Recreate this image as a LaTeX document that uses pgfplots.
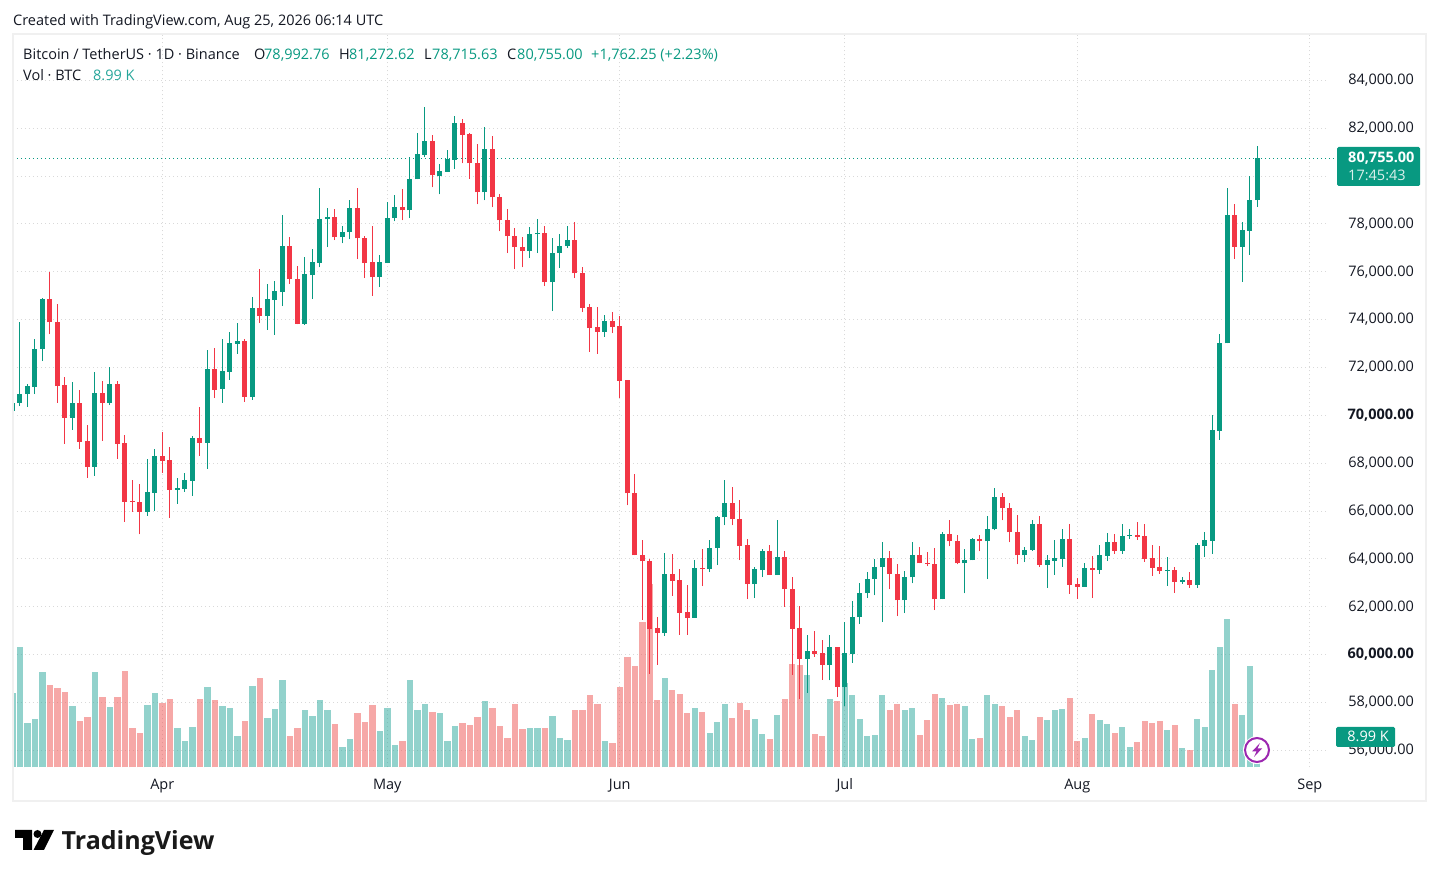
\documentclass[border=0pt]{standalone}
\usepackage{fontspec}
\setmainfont{Open Sans}
\usepackage{pgfplots}
\usepackage{pgfplotstable}
\pgfplotsset{compat=1.18}
\definecolor{upc}{HTML}{089981}
\definecolor{downc}{HTML}{F23645}
\definecolor{volup}{HTML}{26A69A}
\definecolor{voldown}{HTML}{EF5350}
\definecolor{gridc}{HTML}{D9D9D9}
\definecolor{boxc}{HTML}{F0F0F0}
\definecolor{txt}{HTML}{131722}
\definecolor{boltc}{HTML}{9C27B0}
\newcommand{\tvfont}{\fontsize{14.5}{17}\selectfont}

% i low high bot top vol  (USD, volume in thousands BTC)
\pgfplotstableread{
i low high bot top vol
0 70180 70530 70180 70530 22.2
1 70390 73920 70520 70900 36.0
2 70350 71290 70890 71210 13.2
3 70890 73210 71180 72790 14.4
4 72270 74920 72770 74880 28.5
8 69390 71380 69890 70500 18.3
11 67470 71830 67850 70920 28.5
13 70430 72040 70520 71330 18.0
18 65810 68170 65970 66790 18.6
19 66020 68580 66770 68290 22.2
22 66310 67380 66890 66960 11.7
23 66810 67580 66930 67290 7.8
24 66640 69130 67270 69040 12.0
26 67770 72750 68850 71920 24.0
28 70530 73180 71110 71850 18.3
29 71490 73470 71820 73010 17.7
30 72570 73850 72990 73100 9.3
32 70650 74930 70780 74470 24.3
34 73570 75470 74150 74850 14.7
35 73360 75600 74820 75180 17.4
36 74570 78390 75150 77100 26.1
39 73780 76600 73820 75890 17.1
40 74860 76970 75860 76390 15.3
41 76190 79510 76360 78220 20.1
42 77030 78680 78190 78300 17.1
44 77190 77930 77440 77680 6.0
45 77360 79010 77650 78680 8.4
49 75360 76720 75780 76390 10.8
50 76360 78930 76360 78260 17.7
51 78110 79220 78240 78720 6.6
53 78240 80800 78570 79890 26.1
54 79860 81800 79860 80930 17.1
55 80780 82890 80890 81470 18.9
57 79240 80510 80010 80220 16.2
58 80190 81100 80190 80720 7.8
59 80300 82510 80690 82220 12.3
63 78990 82050 79320 81140 19.8
69 76570 77890 76860 77600 11.7
70 76780 78220 77570 77640 11.7
72 74360 77430 75570 76800 15.3
73 76150 77600 76780 77100 8.7
74 76990 77930 77070 77350 8.1
79 73280 74180 73490 73930 7.8
87 60780 64260 60900 63350 26.7
91 61530 63970 61530 63640 17.7
93 63450 64810 63570 64470 10.2
94 63740 65810 64450 65760 13.5
95 65400 67310 65740 66350 18.9
99 62360 63680 62950 63560 14.4
100 63240 64430 63530 64310 9.9
102 63320 65640 63320 64060 15.6
106 58400 60810 59820 60140 27.6
109 58920 60800 59560 60300 20.4
111 57840 61380 58650 60050 25.2
112 59650 62220 60020 61590 21.6
113 61270 63010 61560 62590 14.4
114 62360 63470 62560 63170 9.3
115 62480 64010 63150 63670 9.6
116 61360 64720 63650 64050 21.6
119 61730 63510 62270 63260 17.1
120 62980 64720 63230 64170 17.7
124 62310 65130 62310 65050 20.7
127 62560 64420 63810 63970 18.3
128 63940 64880 63940 64840 8.4
130 63150 65800 64730 65260 21.6
131 65190 66970 65230 66590 18.9
135 63860 64510 64150 64380 9.3
136 64340 65620 64380 65450 8.1
138 62800 64160 63760 63950 14.1
139 63340 64780 63920 64030 17.1
140 63670 65240 64010 64830 17.4
143 62840 63830 62840 63620 8.7
145 63380 64580 63550 64160 14.1
146 63920 65080 64130 64700 12.9
148 64220 65450 64340 64950 12.0
149 64840 65240 64970 64990 6.0
154 62880 64080 63510 63530 11.1
156 62970 63240 63050 63120 5.7
158 62800 64660 62920 64580 14.4
159 64090 65120 64550 64780 12.0
160 64220 70030 64760 69370 29.1
161 68970 73410 69340 73030 36.0
162 73010 79490 73010 78370 44.4
164 75590 78080 77050 77740 15.6
165 76720 79990 77720 78990 30.3
166 78716 81273 78993 80755 8.99
}\upt

\pgfplotstableread{
i low high bot top vol
5 73390 76000 73890 74880 24.6
6 70520 74670 71220 73920 23.7
7 68810 71610 69890 71250 22.5
9 68600 71080 68890 70500 13.8
10 67390 69580 67850 68920 15.0
12 68930 71420 70520 70920 21.0
14 68180 71420 68810 71330 21.0
15 65560 69170 66390 68830 28.8
16 65970 67290 66390 66420 11.7
17 65020 67130 65970 66380 10.2
20 67600 69290 68100 68290 19.2
21 65720 68670 66890 68130 20.4
25 68310 70330 68850 69040 20.4
27 70720 72830 71060 71920 20.1
31 70570 73180 70780 73100 13.8
33 73860 76100 74150 74470 26.7
37 75490 77470 75690 77100 9.3
38 73800 76260 73820 75720 11.7
43 77320 78640 77440 78300 12.9
46 76530 79510 77400 78680 16.2
47 75740 77510 76360 77430 13.5
48 74990 77930 75780 76390 18.6
52 78150 79470 78570 78720 7.8
56 79530 81720 80030 81470 16.5
60 80530 82390 81740 82220 13.2
61 79900 81800 80530 81760 12.6
62 78820 81350 79320 80550 15.0
64 78690 81680 79110 81140 17.7
65 77690 79260 78150 79140 12.3
66 76780 78640 77490 78180 8.7
67 76110 77850 77030 77510 18.9
68 76190 77470 76860 77050 11.4
71 75400 77930 75570 77640 11.7
75 75740 78100 75940 77350 17.1
76 74320 76220 74490 75970 17.1
77 72650 74640 73650 74510 21.6
78 72570 74550 73490 73680 18.9
80 73440 74300 73690 73930 7.2
81 70740 74140 71440 73720 24.0
82 66240 71470 66740 71470 33.0
83 64150 67560 64150 66760 30.3
84 61450 64810 63900 64180 43.5
85 59200 64010 61070 63930 54.9
86 59570 61560 60900 61100 20.1
88 62450 64220 63070 63350 23.1
89 60820 63560 61740 63100 21.9
90 60820 62890 61530 61760 16.2
92 62860 64430 63570 63640 16.5
96 65400 67010 65650 66350 14.7
97 63950 66470 64530 65680 19.2
98 62320 64850 62950 64560 17.1
101 63320 64600 63320 64310 8.4
103 61990 64310 62740 64060 20.4
104 59150 63260 61070 62760 30.9
105 58150 62010 59820 61100 30.6
107 59900 60970 60030 60140 9.9
108 58950 60600 59570 60060 9.3
110 58230 60300 58650 60300 19.8
117 62730 64340 63360 64050 17.1
118 61610 63800 62270 63380 18.9
121 63810 64510 63810 64170 9.6
122 63690 64300 63810 63840 14.1
123 61860 64470 62310 63800 21.9
125 64520 65630 64730 65050 18.6
126 63770 65010 63810 64760 18.9
129 64310 65010 64730 64840 8.7
132 65610 66760 66110 66590 18.3
133 64690 66340 65110 66130 15.0
134 63770 65840 64150 65130 17.1
137 63670 65780 63760 65450 15.0
141 62550 65450 62920 64830 20.7
142 62340 63200 62840 62950 7.8
144 62380 64120 63550 63620 15.9
147 64220 65030 64340 64700 10.2
150 64800 65530 64920 64990 7.5
151 63880 65450 64010 64950 13.8
152 63300 64580 63630 64030 13.2
153 63380 64530 63510 63660 13.8
155 62590 63660 63050 63530 12.6
157 62800 63450 62920 63120 5.1
163 76550 78830 77050 78370 18.9
}\downt

\pgfplotsset{
  pane/.style={
    scale only axis,width=1315pt,height=732.5pt,
    at={(13pt,109.5pt)},anchor=south west,
    xmin=0.093,xmax=175.43,
  },
  candle/.style n args={2}{
    draw=none,mark=none,forget plot,
    error bars/.cd,y dir=plus,y explicit,error mark=none,
    error bar style={draw=#1,line width=#2,line cap=butt},
  },
}
\begin{document}
\begin{tikzpicture}
\path[use as bounding box,fill=white] (0,0) rectangle (1439pt,877pt);

% prices: grid, tick labels, last price line
\begin{axis}[pane,ymin=55280,ymax=85900,clip=false,
    axis line style={draw=none},major tick length=0pt,
    scaled y ticks=false,
    grid=major,
    grid style={gridc,line width=1pt,dash pattern=on 1pt off 3pt},
    ytick={56000,58000,...,84000},
    yticklabel pos=right,
    yticklabels={{56,000.00},{58,000.00},{\textbf{60,000.00}},{62,000.00},{64,000.00},{66,000.00},{68,000.00},{\textbf{70,000.00}},{72,000.00},{74,000.00},{76,000.00},{78,000.00},{80,000.00},{82,000.00},{84,000.00}},
    yticklabel style={anchor=east,xshift=86pt,inner sep=0pt,text=txt,font=\tvfont},
    xtick={20,50,81,111,142,173},
    xticklabels={Apr,May,Jun,Jul,Aug,Sep},
    xticklabel style={anchor=base,yshift=-22.5pt,inner sep=0pt,text=txt,font=\tvfont},
  ]
  \addplot[upc,line width=1pt,dash pattern=on 1pt off 3pt,mark=none] coordinates {(0.093,80755) (176.67,80755)};
\end{axis}

% volume
\begin{axis}[pane,hide axis,ymin=0,ymax=219.5]
  \addplot[ycomb,volup,opacity=0.5,line width=6.4pt,mark=none] table[x=i,y=vol] {\upt};
  \addplot[ycomb,voldown,opacity=0.5,line width=6.4pt,mark=none] table[x=i,y=vol] {\downt};
\end{axis}

% candles: wick then body
\begin{axis}[pane,hide axis,ymin=55280,ymax=85900]
  \addplot[candle={upc}{1pt}] table[x=i,y=low,y error plus expr=\thisrow{high}-\thisrow{low}] {\upt};
  \addplot[candle={downc}{1pt}] table[x=i,y=low,y error plus expr=\thisrow{high}-\thisrow{low}] {\downt};
  \addplot[candle={upc}{5pt}] table[x=i,y=bot,y error plus expr=\thisrow{top}-\thisrow{bot}] {\upt};
  \addplot[candle={downc}{5pt}] table[x=i,y=bot,y error plus expr=\thisrow{top}-\thisrow{bot}] {\downt};
\end{axis}

% page furniture in image pixels
\begin{scope}[x=1pt,y=-1pt,yshift=877pt,
    every node/.style={inner sep=0pt,font=\tvfont,text=txt}]
  \draw[boxc,line width=2pt] (13,34) rectangle (1426,801);
  \node[anchor=base west] at (13,25.5) {Created with TradingView.com, Aug 25, 2026 06:14 UTC};
  \node[anchor=base west] at (23,60) {Bitcoin / TetherUS · 1D · Binance};
  \node[anchor=base west] at (254,60) {O};
  \node[anchor=base west,text=upc] at (264,60) {78,992.76};
  \node[anchor=base west] at (339,60) {H};
  \node[anchor=base west,text=upc] at (349,60) {81,272.62};
  \node[anchor=base west] at (424,60) {L};
  \node[anchor=base west,text=upc] at (432,60) {78,715.63};
  \node[anchor=base west] at (507,60) {C};
  \node[anchor=base west,text=upc] at (517,60) {80,755.00};
  \node[anchor=base west,text=upc] at (591,60) {+1,762.25 (+2.23\%)};
  \node[anchor=base west] at (23,81) {Vol · BTC};
  \node[anchor=base west,text=volup] at (93,81) {8.99 K};
  % price tag
  \fill[upc,rounded corners=1.5pt] (1337,147) rectangle (1420,186);
  \node[anchor=base west,text=white] at (1348,162.5) {\textbf{80,755.00}};
  \node[anchor=base west,text=white!85!upc] at (1348,180.5) {17:45:43};
  % volume tag
  \fill[upc,rounded corners=1.5pt] (1336,727) rectangle (1395,747);
  \node[anchor=base east,text=white] at (1389,742) {8.99 K};
  % bolt badge
  \fill[white] (1257,750) circle (14);
  \draw[boltc,line width=2pt] (1257,750) circle (12);
  \fill[boltc] (1260,743) -- (1252,751.5) -- (1256.5,751.5) -- (1254,757) -- (1262,748.5) -- (1257.5,748.5) -- cycle;
  % logo
  \fill[black] (15,830) -- (32,830) -- (32,850) -- (23,850) -- (23,838) -- (15,838) -- cycle;
  \fill[black] (37.5,834) circle (4);
  \fill[black] (44,830) -- (54,830) -- (44,850) -- (33.5,850) -- cycle;
  \node[anchor=base west,font=\fontsize{25}{30}\selectfont\bfseries,text=black!90] at (61.5,849.5) {TradingView};
\end{scope}
\end{tikzpicture}
\end{document}
